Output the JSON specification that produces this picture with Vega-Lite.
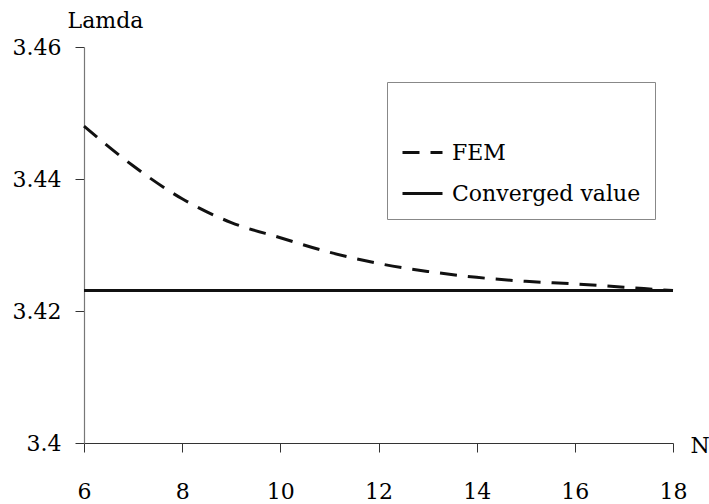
{
  "$schema": "https://vega.github.io/schema/vega-lite/v6.json",
  "width": 589,
  "height": 396,
  "padding": {"left": 84, "top": 47, "right": 36, "bottom": 61},
  "autosize": {"type": "none"},
  "background": "white",
  "config": {
    "view": {"stroke": null},
    "font": "DejaVu Serif"
  },
  "data": {
    "values": [
      {"N": 6, "lamda": 3.448, "series": "FEM"},
      {"N": 7, "lamda": 3.442, "series": "FEM"},
      {"N": 8, "lamda": 3.437, "series": "FEM"},
      {"N": 9, "lamda": 3.4334, "series": "FEM"},
      {"N": 10, "lamda": 3.4311, "series": "FEM"},
      {"N": 11, "lamda": 3.4289, "series": "FEM"},
      {"N": 12, "lamda": 3.4272, "series": "FEM"},
      {"N": 13, "lamda": 3.426, "series": "FEM"},
      {"N": 14, "lamda": 3.4251, "series": "FEM"},
      {"N": 15, "lamda": 3.4245, "series": "FEM"},
      {"N": 16, "lamda": 3.4241, "series": "FEM"},
      {"N": 17, "lamda": 3.4236, "series": "FEM"},
      {"N": 18, "lamda": 3.4231, "series": "FEM"},
      {"N": 6, "lamda": 3.4231, "series": "Converged value"},
      {"N": 18, "lamda": 3.4231, "series": "Converged value"}
    ]
  },
  "mark": {"type": "line", "color": "#111", "strokeWidth": 3, "interpolate": "monotone"},
  "encoding": {
    "x": {
      "field": "N",
      "type": "quantitative",
      "scale": {"domain": [6, 18], "nice": false, "zero": false},
      "axis": {
        "values": [6, 8, 10, 12, 14, 16, 18],
        "grid": false,
        "title": "N",
        "titleFont": "DejaVu Serif",
        "titleFontSize": 22,
        "titleFontWeight": "normal",
        "titleColor": "black",
        "titleAnchor": "start",
        "titleAlign": "left",
        "titleBaseline": "middle",
        "titleX": 606,
        "titleY": 2,
        "titleAngle": 0,
        "labelFont": "DejaVu Serif",
        "labelFontSize": 22,
        "labelColor": "black",
        "labelPadding": 29,
        "labelFlush": false,
        "tickSize": 9,
        "tickColor": "#333",
        "tickWidth": 1,
        "domainColor": "#333",
        "domainWidth": 1.2
      }
    },
    "y": {
      "field": "lamda",
      "type": "quantitative",
      "scale": {"domain": [3.4, 3.46], "nice": false, "zero": false},
      "axis": {
        "values": [3.4, 3.42, 3.44, 3.46],
        "format": ".2~f",
        "grid": false,
        "title": "Lamda",
        "titleFont": "DejaVu Serif",
        "titleFontSize": 22,
        "titleFontWeight": "normal",
        "titleColor": "black",
        "titleAngle": 0,
        "titleAlign": "center",
        "titleBaseline": "alphabetic",
        "titleX": 21,
        "titleY": -20,
        "labelFont": "DejaVu Serif",
        "labelFontSize": 22,
        "labelColor": "black",
        "labelPadding": 14,
        "labelDy": 3,
        "labelFlush": false,
        "tickSize": 9,
        "tickColor": "#333",
        "tickWidth": 1,
        "domainColor": "#777",
        "domainWidth": 1.2
      }
    },
    "strokeDash": {
      "field": "series",
      "type": "nominal",
      "scale": {"domain": ["FEM", "Converged value"], "range": [[17, 11], [1, 0]]},
      "legend": {
        "orient": "none",
        "legendX": 303,
        "legendY": 35,
        "title": " ",
        "titleFont": "DejaVu Serif",
        "titleFontSize": 26,
        "titlePadding": 9,
        "padding": 14,
        "strokeColor": "#888",
        "fillColor": "white",
        "symbolType": "stroke",
        "symbolSize": 1600,
        "symbolStrokeWidth": 3,
        "symbolStrokeColor": "#111",
        "labelFont": "DejaVu Serif",
        "labelFontSize": 22,
        "labelColor": "black",
        "labelOffset": 8,
        "rowPadding": 8,
        "labelLimit": 400
      }
    }
  }
}
